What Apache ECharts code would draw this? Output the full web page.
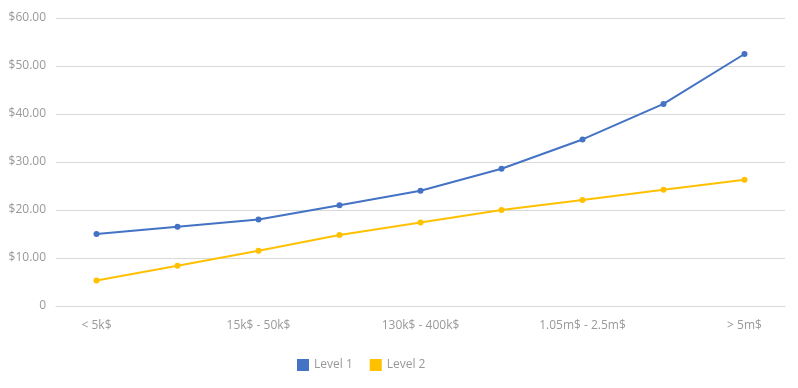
<!DOCTYPE html>
<html><head><meta charset="utf-8">
<script src="https://cdn.jsdelivr.net/npm/echarts@6/dist/echarts.min.js"></script>
<style>html,body{margin:0;padding:0;background:#fff}#c{width:798px;height:388px}</style>
</head><body><div id="c"></div>
<script>
const categories = ["< 5k$", "5k$ - 15k$", "15k$ - 50k$", "50k$ - 130k$", "130k$ - 400k$", "400k$ - 1.05m$", "1.05m$ - 2.5m$", "2.5m$ - 5m$", "> 5m$"];
const level1 = [15.0, 16.5, 18.0, 21.0, 24.0, 28.6, 34.7, 42.1, 52.5];
const level2 = [5.3, 8.4, 11.5, 14.8, 17.4, 20.0, 22.1, 24.2, 26.3];
const yTicks = { min: 0, max: 60, interval: 10 };

const chart = echarts.init(document.getElementById('c'), null, { renderer: 'canvas' });
const font = '"Open Sans", "Noto Sans", sans-serif';
chart.setOption({
  animation: false,
  textStyle: { fontFamily: font },
  grid: { left: 56, right: 13, top: 18, bottom: 82, containLabel: false },
  legend: {
    top: 354, left: 292, itemWidth: 12, itemHeight: 12, itemGap: 17,
    icon: 'rect',
    textStyle: { color: '#999', fontSize: 12, fontFamily: font },
    data: ['Level 1', 'Level 2']
  },
  xAxis: {
    type: 'category', data: categories, boundaryGap: true,
    axisLine: { show: true, lineStyle: { color: '#d9d9d9' } },
    axisTick: { show: false },
    axisLabel: { interval: 1, color: '#999', fontSize: 12, margin: 14, fontFamily: font }
  },
  yAxis: {
    type: 'value', min: yTicks.min, max: yTicks.max, interval: yTicks.interval,
    axisLine: { show: false }, axisTick: { show: false },
    splitLine: { lineStyle: { color: '#d9d9d9' } },
    axisLabel: {
      color: '#999', fontSize: 12, margin: 10, fontFamily: font,
      formatter: v => v === 0 ? '0' : '$' + v.toFixed(2)
    }
  },
  series: [
    { name: 'Level 1', type: 'line', data: level1, color: '#4472C4',
      symbol: 'circle', symbolSize: 6, lineStyle: { width: 2 } },
    { name: 'Level 2', type: 'line', data: level2, color: '#FFC000',
      symbol: 'circle', symbolSize: 6, lineStyle: { width: 2 } }
  ]
});
</script></body></html>
